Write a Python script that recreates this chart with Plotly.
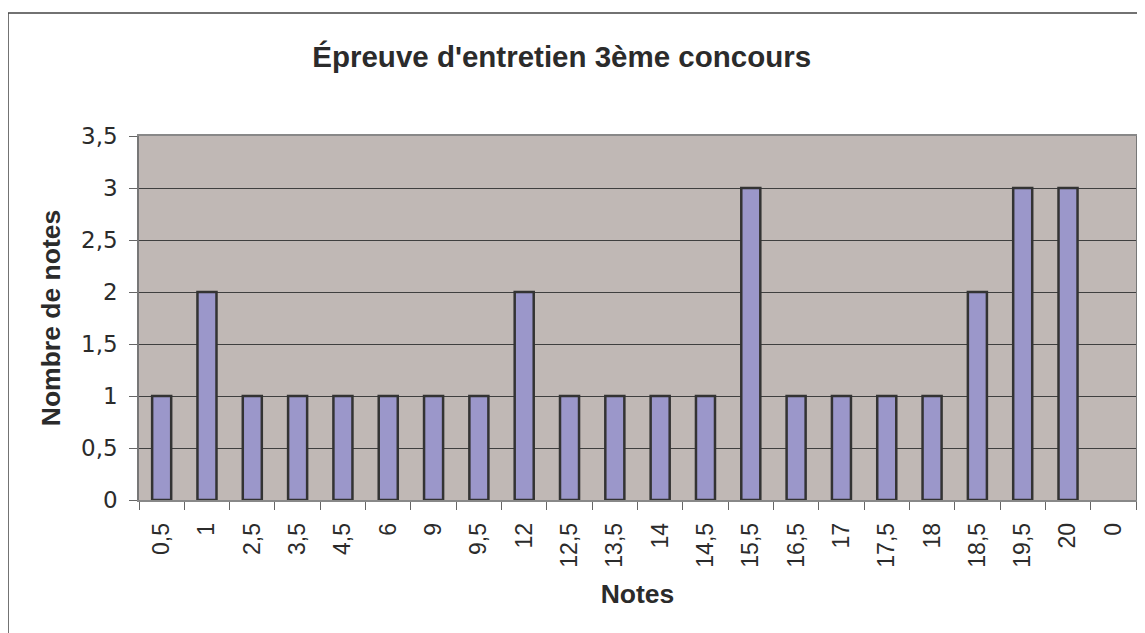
import plotly.graph_objects as go

notes = ["0,5", "1", "2,5", "3,5", "4,5", "6", "9", "9,5", "12", "12,5", "13,5",
         "14", "14,5", "15,5", "16,5", "17", "17,5", "18", "18,5", "19,5", "20", "0"]
nombre = [1, 2, 1, 1, 1, 1, 1, 1, 2, 1, 1, 1, 1, 3, 1, 1, 1, 1, 2, 3, 3, 0]
y_ticks = [0, 0.5, 1, 1.5, 2, 2.5, 3, 3.5]
y_labels = ["0", "0,5", "1", "1,5", "2", "2,5", "3", "3,5"]

font = "Liberation Sans, Arial, sans-serif"
txt = "#2b2b2b"

fig = go.Figure(go.Bar(
    x=notes, y=nombre,
    marker=dict(color="#9B97CA",
                line=dict(color="#333333", width=[2.5 if v else 0 for v in nombre])),
    width=0.42,
))

# page body has an 8px margin, so the figure is sized to end at the window edge
fig.update_layout(
    width=1137, height=625,
    margin=dict(l=131, r=9, t=128, b=133),
    paper_bgcolor="white",
    plot_bgcolor="#C0B8B5",
    showlegend=False,
    title=dict(text="<b>Épreuve d'entretien 3ème concours</b>", x=0.487, xanchor="center",
               y=0.922, yanchor="middle", font=dict(family=font, size=29.5, color=txt)),
    font=dict(family=font, size=22, color=txt),
    shapes=[dict(type="rect", xref="paper", yref="paper", x0=-0.1314, x1=1.05,
                 y0=-0.5, y1=1.338, line=dict(color="#444", width=1.5))],
)

fig.update_xaxes(
    type="category", tickangle=-90, tickson="boundaries", ticks="outside",
    ticklen=8, tickcolor="#666", showline=True, linecolor="#888", linewidth=1.5,
    mirror=True, showgrid=False, automargin=False, ticklabelstandoff=12,
    tickfont=dict(family=font, size=23, color=txt),
    title=dict(text="<b>Notes</b>", font=dict(family=font, size=26.5, color=txt), standoff=18),
)
fig.update_yaxes(
    range=[0, 3.5], tickvals=y_ticks, ticktext=y_labels, ticks="outside",
    ticklen=8, tickcolor="#666", showline=True, linecolor="#777", linewidth=1.5,
    mirror=True, showgrid=True, gridcolor="#3f3f3f", gridwidth=1.2, zeroline=False,
    automargin=False, ticklabelstandoff=7,
    tickfont=dict(family="DejaVu Sans, sans-serif", size=23, color=txt),
    title=dict(text="<b>Nombre de notes</b>", font=dict(family=font, size=26.5, color=txt),
               standoff=13),
)

fig.write_html("out.html")
